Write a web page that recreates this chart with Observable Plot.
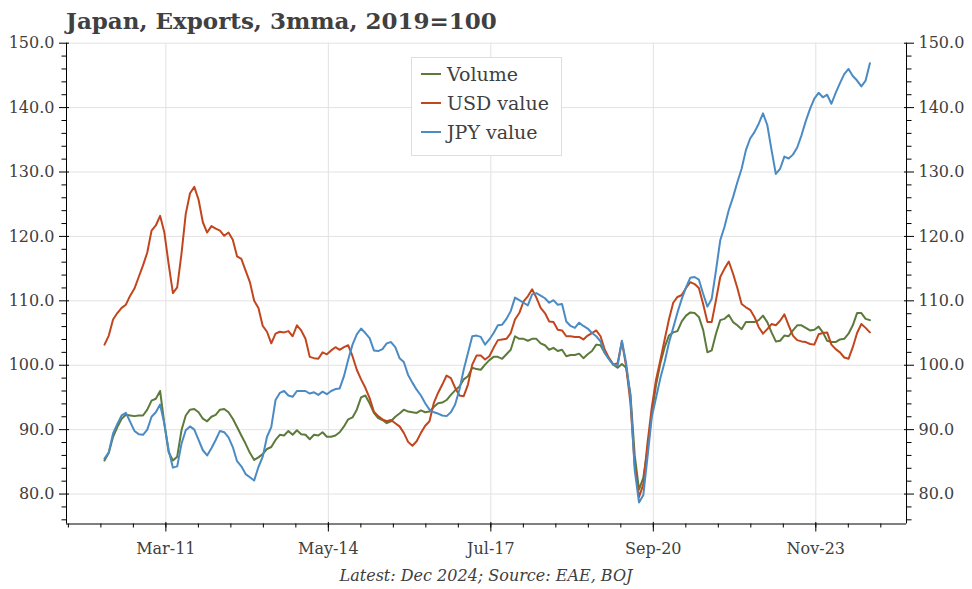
<!DOCTYPE html>
<html>
<head>
<meta charset="utf-8">
<script src="https://cdn.jsdelivr.net/npm/d3@7"></script>
<script src="https://cdn.jsdelivr.net/npm/@observablehq/plot@0.6"></script>
<style>
  body { margin: 0; background: #fff; }
  #wrap { position: relative; width: 972px; height: 589px; font-family: "DejaVu Serif", serif; color: #404040; overflow: hidden; }
  #chart { position: absolute; left: 0; top: 26px; }
  #title { position: absolute; left: 66px; top: 8px; font-size: 23px; line-height: 26px; font-weight: bold; white-space: nowrap; z-index: 2; }
  #legend { position: absolute; left: 411px; top: 57px; width: 149px; height: 96px; background: #fff; border: 1px solid #dedede; padding-top: 1px; box-sizing: content-box; z-index: 2; }
  .row { display: flex; align-items: center; height: 29px; font-size: 19px; white-space: nowrap; }
  .sw { width: 20px; height: 2px; margin-left: 9px; margin-right: 6px; }
  #caption { position: absolute; left: 0; width: 972px; top: 566px; text-align: center; font-size: 16px; line-height: 20px; font-style: italic; white-space: nowrap; }
</style>
</head>
<body>
<div id="wrap">
  <div id="chart"></div>
  <div id="title">Japan, Exports, 3mma, 2019=100</div>
  <div id="legend"></div>
  <div id="caption">Latest: Dec 2024; Source: EAE, BOJ</div>
</div>
<script>
// Monthly data, Jan 2010 .. Dec 2024 (index 0 = Jan 2010)
const seriesNames = ["Volume", "USD value", "JPY value"];
const seriesColors = ["#5c7a3a", "#c2461d", "#4b8bc4"];

const volume = [
  85.2, 86.4, 88.9, 90.4, 91.7, 92.3, 92.2, 92.1, 92.2, 92.2,
  93.1, 94.5, 94.8, 96.0, 90.9, 86.5, 85.2, 85.8, 89.9, 92.2,
  93.1, 93.2, 92.7, 91.7, 91.3, 92.0, 92.3, 93.1, 93.2, 92.7,
  91.7, 90.4, 89.1, 87.8, 86.4, 85.3, 85.7, 86.2, 87.0, 87.3,
  88.4, 89.2, 89.1, 89.8, 89.2, 89.9, 89.3, 89.2, 88.5, 89.2,
  89.1, 89.6, 88.9, 88.9, 89.1, 89.6, 90.5, 91.6, 91.9, 93.1,
  95.0, 95.3, 94.1, 92.6, 91.8, 91.5, 91.0, 91.3, 92.0, 92.5,
  93.1, 92.8, 92.7, 92.6, 93.0, 92.7, 92.8, 93.5, 94.1, 94.2,
  94.6, 95.4, 96.1, 96.7, 97.8, 98.3, 99.6, 99.4, 99.3, 100.1,
  100.8, 101.3, 101.3, 101.0, 101.7, 102.4, 104.5, 104.1, 104.1, 103.8,
  104.1, 104.1, 103.4, 103.1, 102.4, 102.7, 102.2, 102.4, 101.4, 101.6,
  101.6, 101.8, 101.1, 101.7, 102.2, 103.2, 103.1, 101.9, 101.0, 100.1,
  99.6, 100.2, 99.6, 95.5, 86.0, 80.7, 82.5, 87.0, 92.5, 97.0,
  100.3, 102.8, 104.6, 105.1, 105.3, 106.8, 107.7, 108.2, 108.1, 107.5,
  105.5, 102.0, 102.3, 104.9, 107.0, 107.2, 107.8, 106.7, 106.2, 105.6,
  106.7, 106.7, 106.7, 107.0, 107.7, 106.7, 105.1, 103.7, 103.8, 104.6,
  104.5, 105.4, 106.2, 106.2, 105.8, 105.4, 105.5, 106.0, 105.1, 103.8,
  103.6, 103.6, 104.0, 104.1, 104.9, 106.2, 108.1, 108.1, 107.2, 107.0
];

const usdValue = [
  103.2, 104.6, 107.1, 108.1, 108.9, 109.4, 110.8, 111.9, 113.7, 115.5,
  117.5, 120.9, 121.7, 123.2, 120.6, 115.7, 111.2, 112.1, 117.3, 123.5,
  126.7, 127.7, 125.7, 122.2, 120.6, 121.6, 121.2, 120.9, 120.1, 120.6,
  119.5, 116.9, 116.5, 114.7, 112.9, 110.0, 108.9, 106.1, 105.2, 103.4,
  104.9, 105.2, 105.1, 105.3, 104.5, 106.2, 105.4, 104.1, 101.3, 101.1,
  101.0, 102.0, 101.7, 102.3, 102.8, 102.4, 102.8, 103.1, 101.4, 99.3,
  97.8, 96.5, 94.9, 92.8, 92.1, 91.6, 91.3, 91.5, 91.0, 90.5,
  89.5, 88.1, 87.5, 88.2, 89.5, 90.6, 91.3, 94.1, 95.7, 97.0,
  98.4, 98.0, 96.5, 95.3, 95.2, 97.0, 100.1, 101.5, 101.5, 100.9,
  101.4, 102.7, 103.9, 104.0, 104.1, 105.0, 107.1, 108.1, 109.9, 110.7,
  111.8, 110.5, 108.9, 108.1, 106.8, 106.7, 105.5, 105.4, 104.5, 104.5,
  104.4, 104.4, 104.0, 104.6, 105.0, 105.4, 104.5, 102.4, 101.1, 100.1,
  100.3, 103.7, 99.8, 94.1, 84.5, 79.5, 81.5, 88.0, 93.5, 97.8,
  100.8, 104.0, 107.1, 109.7, 110.6, 110.9, 112.0, 112.9, 112.6, 112.0,
  109.5, 106.7, 106.7, 110.1, 113.7, 115.0, 116.1, 114.2, 112.0, 109.5,
  109.0, 108.6, 107.5, 105.9, 104.9, 105.6, 106.4, 106.2, 106.9, 107.9,
  106.2, 104.6, 103.9, 103.7, 103.6, 103.3, 103.2, 104.8, 105.0, 105.1,
  103.2, 102.5, 102.0, 101.2, 101.0, 102.8, 105.0, 106.4, 105.8, 105.1
];

const jpyValue = [
  85.5, 86.5, 89.4, 90.9, 92.2, 92.6, 91.2, 89.8, 89.3, 89.2,
  90.0, 92.0, 92.7, 93.9, 90.9, 86.8, 84.1, 84.3, 87.8, 89.9,
  90.5, 90.0, 88.4, 86.8, 86.0, 87.1, 88.4, 89.8, 89.6, 88.8,
  87.3, 85.1, 84.3, 83.1, 82.6, 82.1, 84.2, 85.8, 88.9, 90.4,
  94.6, 95.7, 96.0, 95.3, 95.1, 96.0, 96.0, 96.0, 95.6, 95.8,
  95.4, 95.9, 95.5, 96.0, 96.3, 96.4, 98.3, 100.9, 103.2, 104.8,
  105.7, 105.0, 104.2, 102.3, 102.2, 102.5, 103.4, 103.6, 102.8, 101.1,
  100.5, 98.5, 97.3, 96.2, 95.3, 94.1, 93.1, 92.7, 92.5, 92.2,
  92.1, 92.7, 93.9, 96.2, 99.3, 101.9, 104.5, 104.6, 104.4, 103.2,
  104.0, 105.0, 106.2, 106.3, 107.2, 108.4, 110.5, 110.1, 109.7, 109.3,
  111.0, 111.2, 110.8, 110.4, 109.7, 110.1, 109.4, 109.5, 106.8, 106.1,
  105.8, 106.6, 106.1, 105.7, 105.0, 104.5, 103.7, 101.9, 100.9, 100.1,
  99.9, 103.8, 100.3, 95.1, 83.7, 78.7, 79.8, 85.8, 92.0, 95.0,
  98.0, 100.5, 103.5, 105.8, 108.2, 110.3, 112.1, 113.6, 113.7, 113.3,
  111.1, 109.1, 110.3, 114.7, 119.4, 121.5, 124.1, 126.1, 128.4, 130.5,
  133.4, 135.2, 136.2, 137.5, 139.1, 137.3, 133.4, 129.7, 130.5, 132.4,
  132.1, 132.7, 133.8, 135.7, 137.9, 139.8, 141.4, 142.3, 141.6, 142.0,
  140.6, 142.3, 143.8, 145.2, 146.0, 144.9, 144.2, 143.3, 144.2, 146.9
];

// Axis ticks and labels
const xTickLabels = ["Mar-11", "May-14", "Jul-17", "Sep-20", "Nov-23"];
const xTickPos = [14.35, 52.35, 90.35, 128.35, 166.35];   // month index of labelled ticks
const xMinorStep = 7.6;
const yTicks = [80, 90, 100, 110, 120, 130, 140, 150];
const yMinorStep = 2;

// Scale extents
const xDomain = [-8.89, 187.56];
const yDomain = [75.35, 150];

const rows = [volume, usdValue, jpyValue].flatMap((arr, k) =>
  arr.map((v, i) => ({series: seriesNames[k], i, v}))
);

const xMinor = d3.range(xTickPos[0] - 3 * xMinorStep, xDomain[1], xMinorStep).filter(d => d >= xDomain[0]);
const yMinor = d3.range(76, 150, yMinorStep).filter(d => d % 10 !== 0);

const fmtY = d => d.toFixed(1);
const fmtX = d => xTickLabels[xTickPos.indexOf(d)];

const chart = Plot.plot({
  width: 972,
  height: 540,
  marginLeft: 66,
  marginRight: 66,
  marginTop: 16.7,
  marginBottom: 42.5,
  style: {fontFamily: "DejaVu Serif, serif", fontSize: "16px", color: "#404040", background: "transparent"},
  x: {type: "linear", domain: xDomain, label: null},
  y: {type: "linear", domain: yDomain, label: null},
  color: {domain: seriesNames, range: seriesColors},
  marks: [
    Plot.ruleY(yTicks, {stroke: "#e2e2e2", strokeWidth: 1}),
    Plot.ruleX(xTickPos, {stroke: "#e2e2e2", strokeWidth: 1}),
    // axis lines
    Plot.ruleX(xDomain, {stroke: "#000", strokeWidth: 1}),
    Plot.ruleY([yDomain[0]], {stroke: "#000", strokeWidth: 1}),
    // left axis
    Plot.axisY(yTicks, {anchor: "left", tickSize: 7, tickPadding: 5, tickFormat: fmtY, stroke: "#000", fill: "#404040", fontSize: 16, label: null}),
    Plot.axisY(yTicks, {anchor: "left", tickSize: -3, stroke: "#000", fill: "none", label: null}),
    Plot.axisY(yMinor, {anchor: "left", tickSize: 4.5, stroke: "#000", fill: "none", label: null}),
    // right axis
    Plot.axisY(yTicks, {anchor: "right", tickSize: 7, tickPadding: 5, tickFormat: fmtY, stroke: "#000", fill: "#404040", fontSize: 16, label: null}),
    Plot.axisY(yTicks, {anchor: "right", tickSize: -3, stroke: "#000", fill: "none", label: null}),
    Plot.axisY(yMinor, {anchor: "right", tickSize: 4.5, stroke: "#000", fill: "none", label: null}),
    // bottom axis
    Plot.axisX(xTickPos, {anchor: "bottom", tickSize: 8, tickPadding: 11, tickFormat: fmtX, stroke: "#000", fill: "#404040", fontSize: 16, label: null}),
    Plot.axisX(xTickPos, {anchor: "bottom", tickSize: -1.5, stroke: "#000", fill: "none", label: null}),
    Plot.axisX(xMinor, {anchor: "bottom", tickSize: 4, stroke: "#000", fill: "none", label: null}),
    // series
    Plot.line(rows, {x: "i", y: "v", z: "series", stroke: "series", strokeWidth: 2, strokeLinejoin: "round"})
  ]
});
document.getElementById("chart").appendChild(chart);

// legend
const legend = document.getElementById("legend");
seriesNames.forEach((name, k) => {
  const row = document.createElement("div");
  row.className = "row";
  const sw = document.createElement("span");
  sw.className = "sw";
  sw.style.background = seriesColors[k];
  const tx = document.createElement("span");
  tx.textContent = name;
  row.appendChild(sw);
  row.appendChild(tx);
  legend.appendChild(row);
});
</script>
</body>
</html>
